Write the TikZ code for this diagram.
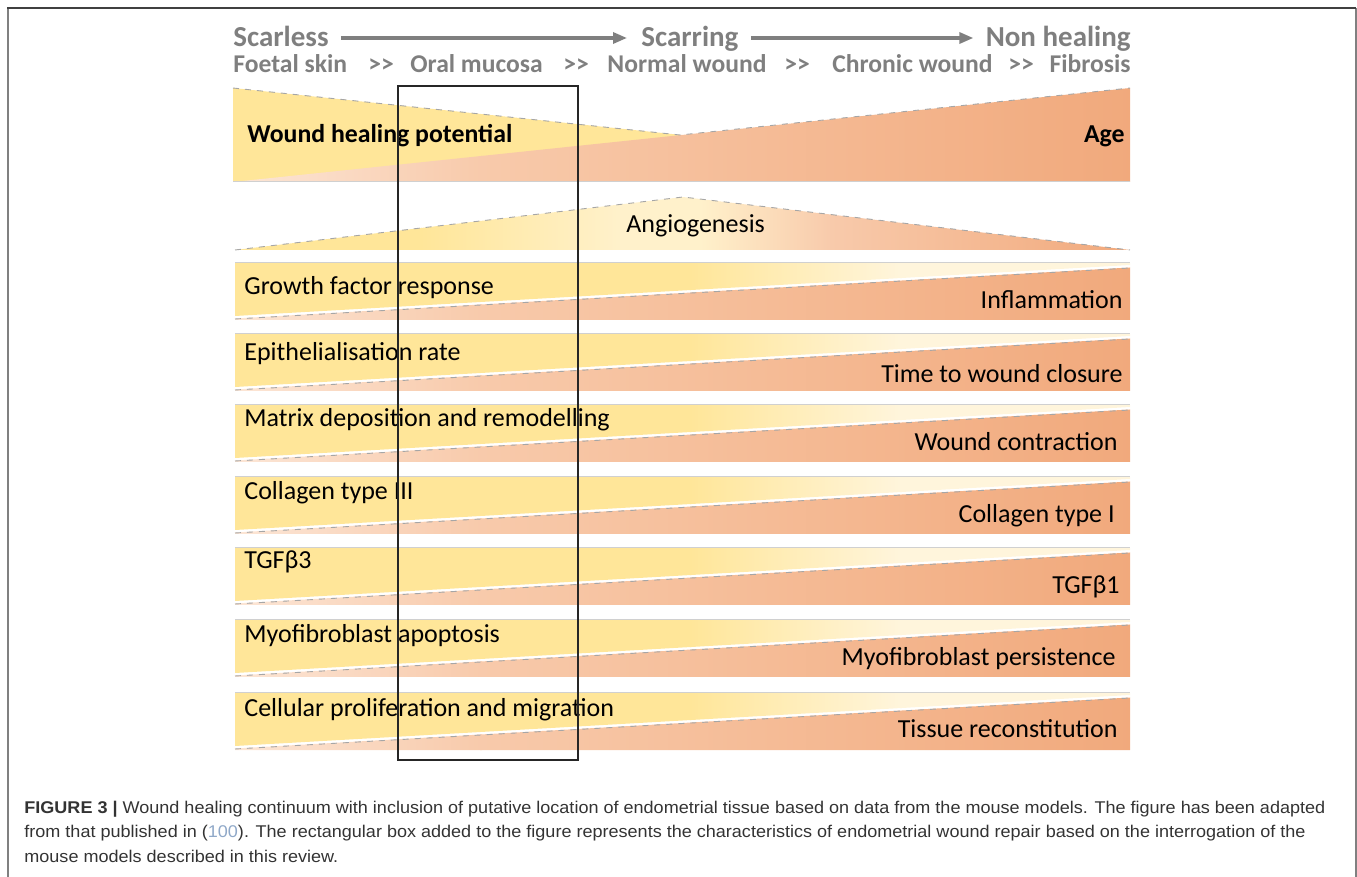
\documentclass[tikz,border=0pt]{standalone}
\usepackage{fontspec}
\setmainfont{Carlito}
\newfontfamily\capfont{Liberation Sans}
\usetikzlibrary{arrows.meta,calc}

\definecolor{hdrgray}{HTML}{7F7F7F}
\definecolor{yel}{HTML}{FFE699}
\definecolor{cream}{HTML}{FFF5DC}
\definecolor{angcream}{HTML}{FFF1CB}
\definecolor{orpale}{HTML}{FCE6D6}
\definecolor{orpeach}{HTML}{F8CAAB}
\definecolor{ordeep}{HTML}{F1A97C}
\definecolor{edgegray}{HTML}{A6A6A6}
\definecolor{linegray}{HTML}{D0D0D0}
\definecolor{linkblue}{HTML}{8FA8C8}
\definecolor{framedark}{HTML}{404040}
\definecolor{framegray}{HTML}{808080}

% horizontal colour ramps, painted inside a clip
\newcommand\yellowramp[2]{%
  \fill[yel] (233,#1) rectangle (692,#2);
  \shade[left color=yel,right color=cream] (690,#1) rectangle (902,#2);
  \fill[cream] (900,#1) rectangle (1132,#2);}
\newcommand\orangeramp[2]{%
  \shade[left color=orpale,right color=orpeach] (233,#1) rectangle (482,#2);
  \shade[left color=orpeach,right color=ordeep] (480,#1) rectangle (1132,#2);}
% two separate '>' glyphs, kept apart from the TeX ligature mapping
\newcommand\gtgt{>\kern0pt>}

\newlength\capwd

\begin{document}
\settowidth\capwd{\capfont\fontsize{8.5}{10}\selectfont\textbf{FIGURE 3 |} Wound healing continuum with inclusion of putative location of endometrial tissue based on data from the mouse models. The figure has been adapted}
\pgfmathsetmacro\capscale{650.5pt/\capwd}
\begin{tikzpicture}[x=0.5pt,y=-0.5pt,
  hdr/.style={font=\fontsize{14.5}{17}\selectfont\bfseries,text=hdrgray,inner sep=0},
  sub/.style={font=\fontsize{12.8}{15}\selectfont\bfseries,text=hdrgray,inner sep=0},
  hdrarrow/.style={draw=hdrgray,line width=1.6pt,-{Triangle[length=7pt,width=5.5pt]}},
  lbl/.style={font=\fontsize{13}{15}\selectfont,inner sep=0,anchor=base west},
  rlbl/.style={font=\fontsize{13}{15}\selectfont,inner sep=0,anchor=base east},
  boldlbl/.style={font=\fontsize{12.9}{15}\selectfont\bfseries,inner sep=0},
  edgedash/.style={draw=edgegray,line width=0.45pt,dash pattern=on 3pt off 3pt},
  bandtop/.style={draw=linegray,line width=0.5pt},
  captext/.style={font=\capfont\fontsize{8.5}{10}\selectfont,text=black!80,inner sep=0,anchor=base west}]
\useasboundingbox (0,0) rectangle (1357,877);

% page frame
\draw[framegray,line width=1pt] (7.5,877) -- (7.5,8.5);
\draw[framegray,line width=1pt] (1355.5,877) -- (1355.5,8.5);
\draw[framedark,line width=1pt] (7,8.5) -- (1356,8.5);

% header: outcome scale
\node[hdr,anchor=base west] (scarless) at (233,47) {Scarless};
\node[hdr,anchor=base west] (scarring) at (641,47) {Scarring};
\node[hdr,anchor=base east] (nonheal) at (1131,47) {Non healing};
\coordinate (ay) at (0,38);
\draw[hdrarrow] ([xshift=6pt]scarless.east |- ay) -- ([xshift=-7pt]scarring.west |- ay);
\draw[hdrarrow] ([xshift=6pt]scarring.east |- ay) -- ([xshift=-6pt]nonheal.west |- ay);

% header: tissue types
\node[sub,anchor=base west] (foetal) at (233,73) {Foetal skin};
\node[sub,anchor=base west] (gt1) at (368,73) {\gtgt};
\node[sub,anchor=base west] (oral) at (410,73) {Oral mucosa};
\node[sub,anchor=base west] (gt2) at (563,73) {\gtgt};
\node[sub,anchor=base west] (normal) at (607,73) {Normal wound};
\node[sub,anchor=base west] (gt3) at (784,73) {\gtgt};
\node[sub,anchor=base west] (chronic) at (832,73) {Chronic wound};
\node[sub,anchor=base west] (gt4) at (1008,73) {\gtgt};
\node[sub,anchor=base east] (fibrosis) at (1131,73) {Fibrosis};

% wound healing potential versus age
\begin{scope}
  \clip (233,88) -- (233,182) -- (1130,182) -- cycle;
  \fill[yel] (233,88) rectangle (1130,182);
\end{scope}
\begin{scope}
  \clip (233,182) -- (1130,88) -- (1130,182) -- cycle;
  \orangeramp{88}{182}
\end{scope}
\draw[edgedash] (233,88) -- (680,135) -- (1130,88);
\draw[bandtop] (233,182) -- (1130,182);
\node[boldlbl,anchor=base west] (potential) at (247,143) {Wound healing potential};
\node[boldlbl,anchor=base east] (age) at (1125,143) {Age};

% angiogenesis peak
\begin{scope}
  \clip (235,250) -- (683,197) -- (1130,250) -- cycle;
  \fill[yel] (235,197) rectangle (422,250);
  \shade[left color=yel,right color=angcream] (420,197) rectangle (622,250);
  \fill[angcream] (620,197) rectangle (702,250);
  \shade[left color=angcream,right color=orpeach] (700,197) rectangle (832,250);
  \shade[left color=orpeach,right color=ordeep] (830,197) rectangle (1130,250);
\end{scope}
\draw[edgedash] (235,250) -- (683,197) -- (1130,250);
\node[lbl] (angio) at (626,233) {Angiogenesis};

% paired bands
\foreach \t/\ltext/\lb/\rtext/\rb/\rx [count=\i] in {
  263/Growth factor response/295/Inflammation/309/1123,
  334/Epithelialisation rate/361/Time to wound closure/383/1123,
  405/Matrix deposition and remodelling/427/Wound contraction/451/1118,
  477/Collagen type III/500/Collagen type I/523/1115,
  548/TGFβ3/569/TGFβ1/594/1120,
  620/Myofibroblast apoptosis/643/Myofibroblast persistence/666/1116,
  693/Cellular proliferation and migration/717/Tissue reconstitution/737/1118}{
  \begin{scope}
    \clip (235,\t) -- (1130,\t) -- (1130,{\t+2}) -- (235,{\t+53}) -- cycle;
    \yellowramp{\t}{\t+57}
  \end{scope}
  \begin{scope}
    \clip (235,{\t+55.5}) -- (1130,{\t+4.5}) -- (1130,{\t+57}) -- (235,{\t+57}) -- cycle;
    \orangeramp{\t}{\t+57}
  \end{scope}
  \draw[bandtop] (235,\t) -- (1130,\t);
  \draw[edgedash] (235,{\t+56}) -- (1130,{\t+5});
  \node[lbl] (l\i) at (244,\lb) {\ltext};
  \node[rlbl] (r\i) at (\rx,\rb) {\rtext};
}

% endometrial repair window
\draw[black!85,line width=0.65pt] (398,86) rectangle (578,760);

% caption
\node[captext] (cap1) at (24,813) {\scalebox{\capscale}[1]{\textbf{FIGURE 3 |} Wound healing continuum with inclusion of putative location of endometrial tissue based on data from the mouse models. The figure has been adapted}};
\node[captext] (cap2) at (24,837.5) {\scalebox{\capscale}[1]{from that published in ({\color{linkblue}100}). The rectangular box added to the figure represents the characteristics of endometrial wound repair based on the interrogation of the}};
\node[captext] (cap3) at (24,862) {\scalebox{\capscale}[1]{mouse models described in this review.}};
\end{tikzpicture}
\end{document}
